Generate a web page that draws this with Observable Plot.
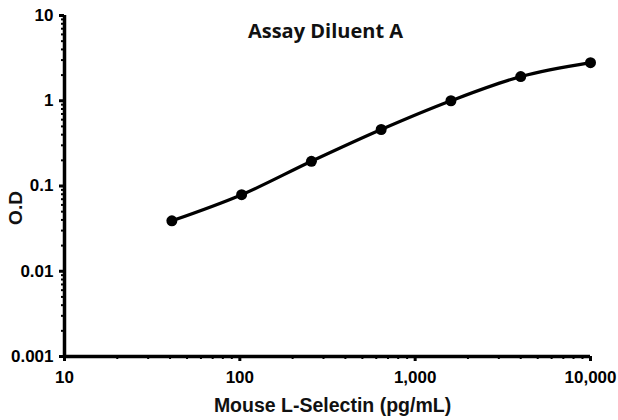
<!DOCTYPE html>
<html>
<head>
<meta charset="utf-8">
<script src="https://cdn.jsdelivr.net/npm/d3@7"></script>
<script src="https://cdn.jsdelivr.net/npm/@observablehq/plot@0.6"></script>
<style>
  html, body { margin: 0; padding: 0; background: #fff; }
  #chart svg { display: block; }
</style>
</head>
<body>
<div id="chart"></div>
<script>
const concentration = [40.96, 102.4, 256, 640, 1600, 4000, 10000];
const od = [0.039, 0.079, 0.195, 0.46, 1.0, 1.92, 2.8];
const xTicks = [10, 100, 1000, 10000];
const yTicks = [0.001, 0.01, 0.1, 1, 10];
const title = "Assay Diluent A";
const xLabel = "Mouse L-Selectin (pg/mL)";
const yLabel = "O.D";

const data = concentration.map((c, i) => ({x: c, y: od[i]}));
const xMinor = [];
for (let d = 10; d < 10000; d *= 10) for (let k = 2; k <= 9; k++) xMinor.push(d * k);
const yMinor = [];
for (let d = 0.001; d < 9; d *= 10) for (let k = 2; k <= 9; k++) yMinor.push(+(d * k).toPrecision(3));

const fontAxis = "'Liberation Sans', Arial, sans-serif";

const chart = Plot.plot({
  width: 618,
  height: 420,
  marginTop: 15,
  marginBottom: 64,
  marginLeft: 64,
  marginRight: 28,
  style: {fontFamily: fontAxis, fontWeight: "bold", fontSize: "17px", color: "#000", background: "#fff"},
  x: {type: "log", domain: [10, 10000]},
  y: {type: "log", domain: [0.001, 10]},
  marks: [
    Plot.axisX({ticks: xMinor, tickSize: 3, tickPadding: 0, text: null, label: null, strokeWidth: 2}),
    Plot.axisY({ticks: yMinor, tickSize: 3, tickPadding: 0, text: null, label: null, strokeWidth: 2}),
    Plot.axisX({ticks: xTicks, tickSize: 5, tickPadding: 9, strokeWidth: 3,
      tickFormat: d => d3.format(",")(d), label: null, fontSize: 17}),
    Plot.axisY({ticks: yTicks, tickSize: 5, tickPadding: 6, strokeWidth: 3,
      tickFormat: d => String(d), label: null, fontSize: 17}),
    Plot.ruleX([10], {stroke: "#000", strokeWidth: 3.5}),
    Plot.ruleY([0.001], {stroke: "#000", strokeWidth: 3.5}),
    Plot.line(data, {x: "x", y: "y", curve: "catmull-rom", stroke: "#000", strokeWidth: 3.2}),
    Plot.dot(data, {x: "x", y: "y", r: 5.5, fill: "#000", stroke: "none"}),
    Plot.text([title], {frameAnchor: "top", lineAnchor: "middle", dx: -2, dy: 16, fontFamily: "'Open Sans', Lato, sans-serif", fontWeight: "bold", fontSize: 20, fill: "#111"}),
    Plot.text([xLabel], {frameAnchor: "bottom", lineAnchor: "middle", dx: 5, dy: 49, fontSize: 19.5, fontWeight: "bold", fill: "#111"}),
    Plot.text([yLabel], {frameAnchor: "left", textAnchor: "middle", lineAnchor: "middle", dx: -49, dy: 22, rotate: -90, fontSize: 19, fontWeight: "bold", fill: "#111"})
  ]
});
document.getElementById("chart").appendChild(chart);
</script>
</body>
</html>
